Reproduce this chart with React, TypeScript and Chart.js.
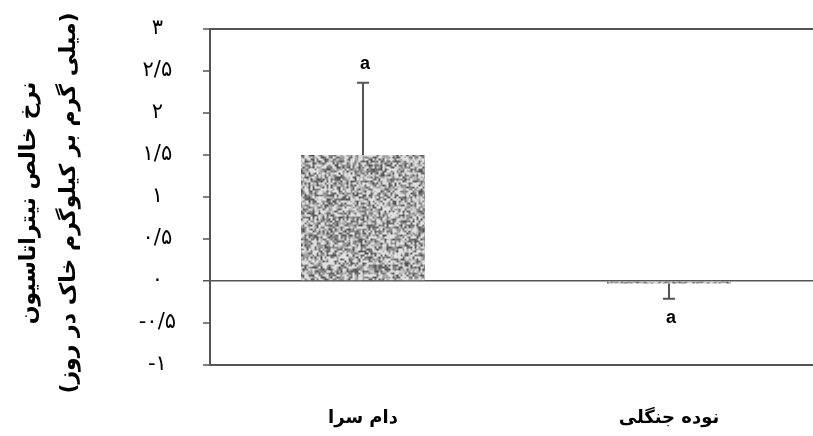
import React, { useEffect, useRef } from "react";
import { Chart, registerables } from "chart.js";

Chart.register(...registerables);

// ---- data ----
const categories = ["دام سرا", "نوده جنگلی"];
const values = [1.5, -0.03];
const errors = [0.86, 0.18];
const letters = ["a", "a"];
const yTickLabels = ["-۱", "-۰/۵", "۰", "۰/۵", "۱", "۱/۵", "۲", "۲/۵", "۳"];
const yTitle = ["نرخ خالص نیتراتاسیون", "(میلی گرم بر کیلوگرم خاک در روز)"];
const yMin = -1;
const yMax = 3;
const yStep = 0.5;
const framedValues = [3, 0, -1];

const PERSIAN_FONT = '"DejaVu Sans", "Noto Sans", sans-serif';

function makeTexture(): CanvasPattern | string {
  const size = 120;
  const cell = 2;
  const n = size / cell;
  const c = document.createElement("canvas");
  c.width = size;
  c.height = size;
  const g = c.getContext("2d");
  if (!g) return "#a8a8a8";
  const raw = new Float32Array(n * n);
  for (let y = 0; y < n; y++) {
    for (let x = 0; x < n; x++) {
      const s = Math.sin(x * 12.9898 + y * 78.233) * 43758.5453;
      raw[y * n + x] = s - Math.floor(s);
    }
  }
  const img = g.createImageData(size, size);
  const at = (x: number, y: number) => raw[((y + n) % n) * n + ((x + n) % n)];
  for (let py = 0; py < size; py++) {
    for (let px = 0; px < size; px++) {
      const fx = px / cell - 0.5;
      const fy = py / cell - 0.5;
      const x0 = Math.floor(fx);
      const y0 = Math.floor(fy);
      const tx = fx - x0;
      const ty = fy - y0;
      const v =
        at(x0, y0) * (1 - tx) * (1 - ty) +
        at(x0 + 1, y0) * tx * (1 - ty) +
        at(x0, y0 + 1) * (1 - tx) * ty +
        at(x0 + 1, y0 + 1) * tx * ty;
      const shade = Math.max(80, Math.min(225, 168 + (v - 0.5) * 190));
      const k = (py * size + px) * 4;
      img.data[k] = shade;
      img.data[k + 1] = shade;
      img.data[k + 2] = shade;
      img.data[k + 3] = 255;
    }
  }
  g.putImageData(img, 0, 0);
  return g.createPattern(c, "repeat") ?? "#a8a8a8";
}

const errorBarPlugin = {
  id: "errorBars",
  afterDatasetsDraw(chart: any) {
    const { ctx } = chart;
    const y = chart.scales.y;
    const meta = chart.getDatasetMeta(0);
    ctx.save();
    values.forEach((v, i) => {
      const bar = meta.data[i];
      if (!bar) return;
      const dir = v >= 0 ? 1 : -1;
      const yv = y.getPixelForValue(v);
      const ye = y.getPixelForValue(v + dir * errors[i]);
      ctx.strokeStyle = "#555";
      ctx.lineWidth = 2;
      ctx.beginPath();
      ctx.moveTo(bar.x, yv);
      ctx.lineTo(bar.x, ye);
      ctx.moveTo(bar.x - 6, ye);
      ctx.lineTo(bar.x + 6, ye);
      ctx.stroke();
      ctx.fillStyle = "#000";
      ctx.font = 'bold 18px "Liberation Sans", Arial, sans-serif';
      ctx.textAlign = "center";
      ctx.textBaseline = "middle";
      ctx.fillText(letters[i], bar.x + 2, ye - dir * 19);
    });
    ctx.restore();
  },
};

// y-axis title, two rotated lines to the left of the tick labels
const yTitlePlugin = {
  id: "yTitle",
  afterDraw(chart: any) {
    const { ctx, chartArea } = chart;
    const cy = (chartArea.top + chartArea.bottom) / 2 + 6;
    ctx.save();
    ctx.fillStyle = "#000";
    ctx.font = `bold 22px ${PERSIAN_FONT}`;
    ctx.textAlign = "center";
    ctx.textBaseline = "middle";
    yTitle.forEach((line, i) => {
      ctx.save();
      ctx.translate(29 + i * 40, cy);
      ctx.rotate(-Math.PI / 2);
      ctx.fillText(line, 0, 0);
      ctx.restore();
    });
    ctx.restore();
  },
};

export default function App() {
  const ref = useRef<HTMLCanvasElement | null>(null);

  useEffect(() => {
    const canvas = ref.current;
    if (!canvas) return;
    const texture = makeTexture();
    const chart = new Chart(canvas, {
      type: "bar",
      data: {
        labels: categories,
        datasets: [
          {
            data: values,
            backgroundColor: texture as any,
            borderWidth: 0,
            categoryPercentage: 1,
            barPercentage: 0.405,
          },
        ],
      },
      options: {
        responsive: false,
        animation: false,
        devicePixelRatio: 1,
        layout: { padding: { left: 0, right: 8, top: 29, bottom: 0 } },
        plugins: { legend: { display: false }, tooltip: { enabled: false } },
        scales: {
          x: {
            grid: { display: false },
            border: { display: false },
            ticks: {
              padding: 35,
              color: "#000",
              font: { family: PERSIAN_FONT, size: 18, weight: "bold" },
            },
            afterFit: (s: any) => {
              s.height = 71;
              s.paddingLeft = 0;
              s.paddingRight = 0;
            },
          },
          y: {
            min: yMin,
            max: yMax,
            ticks: {
              stepSize: yStep,
              callback: (_v: any, i: number) => yTickLabels[i],
              crossAlign: "center",
              padding: 27,
              color: "#000",
              font: { family: PERSIAN_FONT, size: 21 },
            },
            grid: {
              color: (c: any) =>
                framedValues.includes(c.tick?.value) ? "#555" : "rgba(0,0,0,0)",
              lineWidth: (c: any) => (c.tick?.value === 0 ? 1.5 : 2),
              tickColor: "#555",
              tickWidth: 1.5,
              tickLength: 7,
              drawTicks: true,
            },
            border: { display: true, color: "#555", width: 2 },
            title: { display: false },
            afterFit: (s: any) => {
              s.width = 210;
              s.paddingTop = 0;
              s.paddingBottom = 0;
            },
          },
        },
      } as any,
      plugins: [errorBarPlugin, yTitlePlugin],
    });
    return () => chart.destroy();
  }, []);

  return (
    <div
      style={{
        position: "fixed",
        left: 0,
        top: 0,
        width: 813,
        height: 436,
        overflow: "hidden",
        background: "#fff",
      }}
    >
      <canvas ref={ref} width={830} height={436} style={{ display: "block" }} />
    </div>
  );
}
